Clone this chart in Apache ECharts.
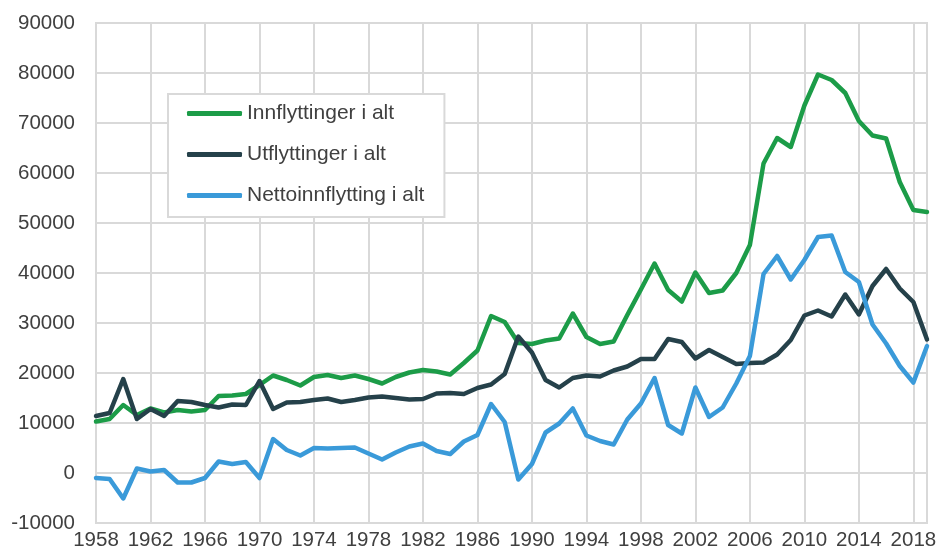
<!DOCTYPE html>
<html>
<head>
<meta charset="utf-8">
<script src="https://cdn.jsdelivr.net/npm/echarts@6/dist/echarts.min.js"></script>
<style>
  html, body { margin: 0; padding: 0; background: #fff; }
  #chart { width: 937px; height: 548px; }
</style>
</head>
<body>
<div id="chart"></div>
<script>
// år
const years = [
  "1958", "1959", "1960", "1961", "1962", "1963", "1964", "1965", "1966", "1967",
  "1968", "1969", "1970", "1971", "1972", "1973", "1974", "1975", "1976", "1977",
  "1978", "1979", "1980", "1981", "1982", "1983", "1984", "1985", "1986", "1987",
  "1988", "1989", "1990", "1991", "1992", "1993", "1994", "1995", "1996", "1997",
  "1998", "1999", "2000", "2001", "2002", "2003", "2004", "2005", "2006", "2007",
  "2008", "2009", "2010", "2011", "2012", "2013", "2014", "2015", "2016", "2017",
  "2018", "2019"
];

const innflyttinger = [
  10300, 10800, 13600, 11600, 12900, 12100, 12600, 12300, 12600, 15400,
  15500, 15800, 17600, 19500, 18600, 17500, 19200, 19600, 19000, 19500,
  18800, 17900, 19200, 20100, 20600, 20300, 19700, 22000, 24500, 31400,
  30200, 26000, 25800, 26500, 26900, 31900, 27200, 25800, 26300, 31600,
  36700, 41900, 36600, 34300, 40100, 36000, 36500, 40000, 45600, 61900,
  67000, 65200, 73500, 79700, 78600, 76000, 70400, 67500, 66900, 58200,
  52600, 52200
];

const utflyttinger = [
  11400, 12000, 18800, 10800, 12800, 11400, 14400, 14200, 13600, 13100,
  13700, 13600, 18400, 12800, 14100, 14200, 14600, 14900, 14200, 14600,
  15100, 15300, 15000, 14700, 14800, 15900, 16000, 15800, 17000, 17700,
  19800, 27300, 24100, 18600, 17100, 19000, 19500, 19300, 20500, 21300,
  22800, 22800, 26800, 26200, 22900, 24600, 23200, 21800, 22000, 22100,
  23700, 26600, 31500, 32500, 31300, 35700, 31700, 37400, 40800, 36900,
  34200, 26700
];

const nettoinnflytting = [
  -1000, -1200, -5100, 900, 300, 600, -1900, -1900, -1000, 2300,
  1800, 2200, -1000, 6800, 4600, 3500, 5000, 4900, 5000, 5100,
  3900, 2700, 4100, 5300, 5900, 4400, 3800, 6300, 7600, 13800,
  10200, -1300, 1800, 8100, 9900, 12900, 7500, 6400, 5700, 10700,
  13900, 19000, 9600, 7900, 17100, 11200, 13100, 17900, 23400, 39800,
  43400, 38700, 42600, 47200, 47500, 40200, 38200, 29700, 25900, 21400,
  18100, 25400
];

const yTicks = { min: -10000, max: 90000, step: 10000 };

const font = '"Liberation Sans", Arial, sans-serif';
const gridColor = "#d9d9d9";
const textColor = "#404040";

let chart = echarts.init(document.getElementById("chart"));

function lineSeries(name, data, color) {
  return {
    name: name,
    type: "line",
    data: data,
    symbol: "none",
    color: color,
    lineStyle: { width: 4.5, color: color, cap: "round", join: "round" },
  };
}

let option = {
  animation: false,
  textStyle: { fontFamily: font },
  grid: {
    left: 96,
    right: 10,
    top: 23,
    bottom: 25,
    outerBoundsMode: "none", // labels may run past the edge, like the original
    show: true,
    borderColor: gridColor,
    borderWidth: 2,
  },
  legend: {
    orient: "vertical",
    left: 168,
    top: 94,
    padding: [9, 20, 11, 19],
    itemGap: 20,
    itemWidth: 55,
    itemHeight: 5,
    icon: "roundRect",
    backgroundColor: "#fff",
    borderColor: gridColor,
    borderWidth: 2,
    textStyle: { color: textColor, fontSize: 21, fontFamily: font },
  },
  xAxis: {
    type: "category",
    boundaryGap: false,
    data: years,
    axisLine: { show: false },
    axisTick: { show: false },
    axisLabel: {
      interval: 3,
      margin: 7,
      color: textColor,
      fontSize: 20.5,
      fontFamily: font,
    },
    splitLine: {
      show: true,
      interval: 3,
      lineStyle: { color: gridColor, width: 2 },
    },
  },
  yAxis: {
    type: "value",
    min: yTicks.min,
    max: yTicks.max,
    interval: yTicks.step,
    axisLine: { show: false },
    axisTick: { show: false },
    axisLabel: {
      margin: 21,
      color: textColor,
      fontSize: 20.5,
      fontFamily: font,
      formatter: (v) => String(v),
    },
    splitLine: { lineStyle: { color: gridColor, width: 2 } },
  },
  series: [
    lineSeries("Innflyttinger i alt", innflyttinger, "#1c9c48"),
    lineSeries("Utflyttinger i alt", utflyttinger, "#25414a"),
    lineSeries("Nettoinnflytting i alt", nettoinnflytting, "#3a9ad9"),
  ],
};

chart.setOption(option);
</script>
</body>
</html>
